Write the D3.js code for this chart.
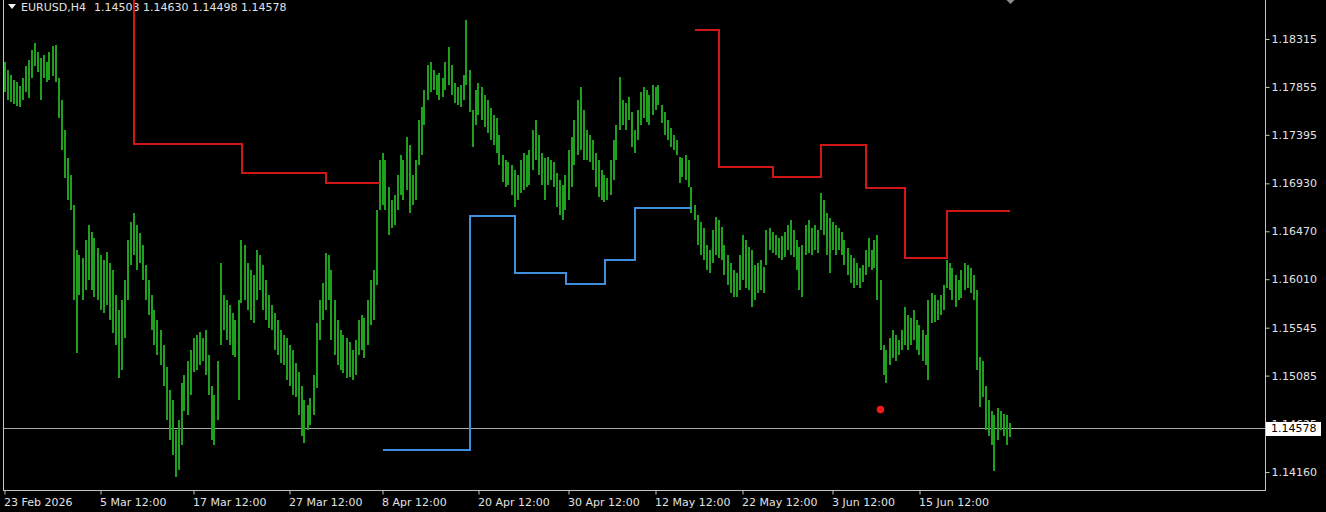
<!DOCTYPE html>
<html><head><meta charset="utf-8">
<script src="https://cdn.jsdelivr.net/npm/d3@7"></script>
<style>html,body{margin:0;padding:0;background:#000;overflow:hidden}svg{display:block}</style>
</head><body>
<svg id="c" width="1326" height="512"></svg>
<script>
// ---------- DATA ----------
const symbolTitle = "EURUSD,H4";
const lastOHLC = [1.14503, 1.14630, 1.14498, 1.14578];
const lastPrice = 1.14578;

const barHigh = [
1.1809,1.1802,1.1797,1.1792,1.1790,1.1786,1.1794,1.1806,1.1811,1.1821,
1.1828,1.1819,1.1813,1.1816,1.1809,1.1819,1.1825,1.1826,1.1794,1.1773,
1.1744,1.1717,1.1701,1.1672,1.1629,1.1624,1.1621,1.1639,1.1653,1.1646,
1.1641,1.1631,1.1624,1.1619,1.1627,1.1617,1.1610,1.1586,1.1571,1.1581,
1.1600,1.1639,1.1656,1.1665,1.1653,1.1645,1.1634,1.1615,1.1600,1.1586,
1.1571,1.1562,1.1552,1.1538,1.1517,1.1495,1.1485,1.1456,1.1466,1.1501,
1.1509,1.1523,1.1533,1.1545,1.1547,1.1550,1.1545,1.1552,1.1528,1.1499,
1.1490,1.1523,1.1617,1.1586,1.1581,1.1576,1.1569,1.1562,1.1581,1.1639,
1.1634,1.1617,1.1610,1.1605,1.1629,1.1624,1.1615,1.1600,1.1586,1.1576,
1.1569,1.1562,1.1552,1.1547,1.1545,1.1538,1.1533,1.1521,1.1512,1.1499,
1.1485,1.1480,1.1487,1.1509,1.1559,1.1581,1.1597,1.1626,1.1624,1.1610,
1.1581,1.1562,1.1552,1.1547,1.1545,1.1541,1.1533,1.1543,1.1562,1.1567,
1.1564,1.1581,1.1600,1.1610,1.1667,1.1715,1.1722,1.1715,1.1689,1.1677,
1.1682,1.1701,1.1720,1.1715,1.1737,1.1730,1.1701,1.1715,1.1754,1.1766,
1.1783,1.1807,1.1809,1.1802,1.1797,1.1799,1.1794,1.1809,1.1824,1.1807,
1.1789,1.1785,1.1787,1.1797,1.1850,1.1802,1.1763,1.1783,1.1789,1.1785,
1.1778,1.1773,1.1765,1.1759,1.1756,1.1739,1.1720,1.1715,1.1713,1.1711,
1.1706,1.1701,1.1715,1.1722,1.1720,1.1725,1.1744,1.1754,1.1739,1.1722,
1.1717,1.1718,1.1715,1.1713,1.1703,1.1696,1.1691,1.1701,1.1725,1.1737,
1.1754,1.1773,1.1785,1.1763,1.1744,1.1739,1.1735,1.1722,1.1715,1.1706,
1.1701,1.1698,1.1715,1.1735,1.1749,1.1795,1.1773,1.1770,1.1776,1.1761,
1.1744,1.1763,1.1781,1.1785,1.1783,1.1778,1.1787,1.1785,1.1787,1.1768,
1.1761,1.1754,1.1746,1.1739,1.1735,1.1718,1.1717,1.1720,1.1715,1.1689,
1.1672,1.1663,1.1656,1.1650,1.1634,1.1629,1.1648,1.1661,1.1658,1.1651,
1.1634,1.1624,1.1617,1.1610,1.1607,1.1624,1.1643,1.1639,1.1632,1.1629,
1.1615,1.1617,1.1619,1.1613,1.1648,1.1650,1.1646,1.1643,1.1641,1.1642,
1.1646,1.1653,1.1658,1.1648,1.1639,1.1632,1.1634,1.1653,1.1658,1.1650,
1.1653,1.1648,1.1684,1.1677,1.1665,1.1660,1.1656,1.1653,1.1650,1.1646,
1.1639,1.1631,1.1624,1.1621,1.1617,1.1612,1.1615,1.1629,1.1641,1.1629,
1.1639,1.1643,1.1600,1.1538,1.1533,1.1545,1.1552,1.1547,1.1543,1.1552,
1.1574,1.1567,1.1564,1.1571,1.1562,1.1557,1.1552,1.1547,1.1581,1.1588,
1.1586,1.1581,1.1586,1.1595,1.1619,1.1617,1.1612,1.1605,1.1600,1.1610,
1.1617,1.1615,1.1612,1.1605,1.1591,1.1526,1.1523,1.1499,1.1485,1.1475,
1.1471,1.1477,1.1475,1.1472,1.1471,1.1463
];
const barLow = [
1.1781,1.1773,1.1771,1.1769,1.1767,1.1766,1.1773,1.1781,1.1775,1.1794,
1.1806,1.1800,1.1773,1.1794,1.1790,1.1792,1.1796,1.1790,1.1756,1.1725,
1.1698,1.1677,1.1667,1.1581,1.1530,1.1586,1.1581,1.1591,1.1600,1.1591,
1.1584,1.1581,1.1571,1.1569,1.1576,1.1562,1.1549,1.1538,1.1506,1.1514,
1.1545,1.1581,1.1615,1.1624,1.1610,1.1617,1.1600,1.1581,1.1567,1.1552,
1.1538,1.1528,1.1519,1.1499,1.1466,1.1447,1.1432,1.1411,1.1418,1.1442,
1.1475,1.1471,1.1490,1.1512,1.1514,1.1519,1.1523,1.1509,1.1490,1.1447,
1.1442,1.1466,1.1538,1.1552,1.1543,1.1538,1.1528,1.1526,1.1485,1.1578,
1.1581,1.1571,1.1562,1.1559,1.1581,1.1591,1.1571,1.1562,1.1554,1.1552,
1.1533,1.1528,1.1521,1.1519,1.1504,1.1499,1.1490,1.1488,1.1471,1.1451,
1.1444,1.1456,1.1461,1.1471,1.1497,1.1543,1.1562,1.1571,1.1581,1.1543,
1.1528,1.1519,1.1514,1.1511,1.1506,1.1507,1.1504,1.1509,1.1528,1.1533,
1.1525,1.1538,1.1557,1.1562,1.1595,1.1667,1.1672,1.1667,1.1643,1.1650,
1.1653,1.1667,1.1682,1.1677,1.1687,1.1665,1.1672,1.1677,1.1711,1.1720,
1.1749,1.1773,1.1781,1.1783,1.1778,1.1773,1.1776,1.1783,1.1787,1.1778,
1.1770,1.1768,1.1766,1.1773,1.1787,1.1761,1.1728,1.1749,1.1759,1.1754,
1.1747,1.1741,1.1735,1.1730,1.1722,1.1711,1.1694,1.1689,1.1691,1.1682,
1.1670,1.1677,1.1684,1.1687,1.1689,1.1691,1.1706,1.1715,1.1701,1.1691,
1.1677,1.1691,1.1696,1.1689,1.1670,1.1663,1.1658,1.1667,1.1677,1.1689,
1.1711,1.1720,1.1725,1.1715,1.1715,1.1713,1.1706,1.1689,1.1680,1.1677,
1.1675,1.1677,1.1682,1.1696,1.1715,1.1744,1.1749,1.1744,1.1754,1.1728,
1.1722,1.1735,1.1749,1.1756,1.1752,1.1749,1.1759,1.1763,1.1768,1.1751,
1.1739,1.1735,1.1728,1.1725,1.1720,1.1693,1.1699,1.1696,1.1689,1.1665,
1.1658,1.1634,1.1624,1.1619,1.1610,1.1607,1.1617,1.1624,1.1621,1.1619,
1.1605,1.1595,1.1588,1.1584,1.1584,1.1591,1.1600,1.1593,1.1591,1.1574,
1.1581,1.1588,1.1591,1.1588,1.1615,1.1629,1.1626,1.1624,1.1621,1.1619,
1.1622,1.1629,1.1624,1.1622,1.1610,1.1591,1.1584,1.1624,1.1626,1.1624,
1.1629,1.1626,1.1648,1.1643,1.1624,1.1607,1.1629,1.1624,1.1629,1.1624,
1.1615,1.1605,1.1597,1.1593,1.1595,1.1593,1.1598,1.1605,1.1613,1.1610,
1.1612,1.1581,1.1533,1.1509,1.1501,1.1519,1.1525,1.1523,1.1528,1.1533,
1.1538,1.1533,1.1538,1.1543,1.1533,1.1528,1.1523,1.1519,1.1504,1.1559,
1.1560,1.1562,1.1567,1.1571,1.1593,1.1591,1.1581,1.1574,1.1581,1.1583,
1.1591,1.1593,1.1588,1.1581,1.1514,1.1478,1.1488,1.1456,1.1451,1.1442,
1.1417,1.1447,1.1456,1.1451,1.1442,1.1450
];

// right price scale tick labels
const priceTicks = [1.18315, 1.17855, 1.17395, 1.16930, 1.16470, 1.16010, 1.15545, 1.15085, 1.14625, 1.14160];
// time scale tick labels (bar index where each label sits)
const timeTickBars = [0, 32, 63, 95, 126, 158, 188, 217, 246, 276, 305];
const timeTickLabels = ["23 Feb 2026", "5 Mar 12:00", "17 Mar 12:00", "27 Mar 12:00", "8 Apr 12:00", "20 Apr 12:00",
                        "30 Apr 12:00", "12 May 12:00", "22 May 12:00", "3 Jun 12:00", "15 Jun 12:00"];

// red resistance step line (two runs): bar where each level starts, and the level
const redBarsA = [40, 43, 79, 107, 125];
const redLevelsA = [1.19000, 1.17304, 1.17029, 1.16930, 1.16930];
const redBarsB = [230, 238, 256, 272, 287, 300, 314, 335];
const redLevelsB = [1.18401, 1.17091, 1.16988, 1.17293, 1.16885, 1.16210, 1.16664, 1.16664];
// blue support step line
const blueBars = [126, 155, 170, 187, 200, 210, 229];
const blueLevels = [1.14371, 1.16619, 1.16066, 1.15964, 1.16194, 1.16696, 1.16696];
// red signal dot
const dotBars = [292];
const dotPrices = [1.14759];

// ---------- DRAW ----------
const plotLeft = 4, plotRight = 1265, plotBottom = 491;
const svg = d3.select("#c");
const FONT = "'DejaVu Sans', Verdana, sans-serif";
const TXT = "#e2e2e2";
const AXC = "#c4c4c4";

const x = d3.scaleLinear().domain([0, barHigh.length - 1]).range([4.5, 1009.5]);
const y = d3.scaleLinear().domain([1.13978, 1.18689]).range([plotBottom, 0]);

svg.append("defs").append("clipPath").attr("id", "plot")
  .append("rect").attr("x", plotLeft).attr("y", 0).attr("width", plotRight - plotLeft).attr("height", plotBottom);

// title
svg.append("path").attr("d", "M8,4 L16,4 L12,9 Z").attr("fill", "#f0f0f0");
svg.append("text").attr("x", 21).attr("y", 11).attr("fill", TXT)
  .style("font-family", FONT).style("font-size", "11px").text(symbolTitle);
svg.append("text").attr("x", 94).attr("y", 11).attr("fill", TXT)
  .style("font-family", FONT).style("font-size", "11px").text(lastOHLC.map(v => v.toFixed(5)).join(" "));

const plot = svg.append("g").attr("clip-path", "url(#plot)");

// price line
plot.append("line").attr("x1", plotLeft).attr("x2", plotRight)
  .attr("y1", Math.round(y(lastPrice)) + 0.5).attr("y2", Math.round(y(lastPrice)) + 0.5)
  .attr("stroke", "#a8a8a8").attr("stroke-width", 1);

// bars (high-low)
plot.append("g").selectAll("line").data(barHigh).join("line")
  .attr("x1", (d, i) => Math.round(x(i))).attr("x2", (d, i) => Math.round(x(i)))
  .attr("y1", d => y(d)).attr("y2", (d, i) => y(barLow[i]))
  .attr("stroke", "#1fa01f").attr("stroke-width", 2).attr("shape-rendering", "crispEdges");

// step lines
const step = d3.line().x(d => x(d[0])).y(d => y(d[1])).curve(d3.curveStepAfter);
function drawStep(bars, levels, color) {
  plot.append("path").datum(bars.map((b, i) => [b, levels[i]]))
    .attr("d", step).attr("fill", "none").attr("stroke", color).attr("stroke-width", 2)
    .attr("shape-rendering", "crispEdges");
}
drawStep(redBarsA, redLevelsA, "#d01616");
drawStep(redBarsB, redLevelsB, "#d01616");
drawStep(blueBars, blueLevels, "#3f8fdf");

// signal dot
plot.selectAll("circle.sig").data(dotBars).join("circle").attr("class", "sig")
  .attr("cx", d => x(d)).attr("cy", (d, i) => y(dotPrices[i])).attr("r", 3.8).attr("fill", "#f01818");

// frame
svg.append("line").attr("x1", 3.5).attr("x2", 3.5).attr("y1", 0).attr("y2", plotBottom).attr("stroke", AXC);
svg.append("line").attr("x1", 3.5).attr("x2", plotRight + 0.5).attr("y1", plotBottom - 0.5).attr("y2", plotBottom - 0.5).attr("stroke", AXC);
svg.append("line").attr("x1", plotRight + 0.5).attr("x2", plotRight + 0.5).attr("y1", 0).attr("y2", plotBottom).attr("stroke", AXC);

// y axis
const yAxis = svg.append("g").attr("transform", `translate(${plotRight + 0.5},0)`)
  .call(d3.axisRight(y).tickValues(priceTicks).tickFormat(d => d.toFixed(5)).tickSize(4).tickSizeOuter(0).tickPadding(2));
yAxis.select(".domain").remove();
yAxis.selectAll("line").attr("stroke", AXC);
yAxis.selectAll("text").attr("fill", TXT).attr("x", 6).style("font-family", FONT).style("font-size", "11px");

// x axis
const xAxis = svg.append("g").attr("transform", `translate(0,${plotBottom - 0.5})`)
  .call(d3.axisBottom(x).tickValues(timeTickBars).tickFormat((d, i) => timeTickLabels[i]).tickSize(4).tickSizeOuter(0));
xAxis.select(".domain").remove();
xAxis.selectAll("line").attr("stroke", AXC);
xAxis.selectAll("text").attr("fill", TXT).attr("text-anchor", "start").attr("x", -1).attr("y", 8).attr("dy", "0.71em")
  .style("font-family", FONT).style("font-size", "11px");

// current price label (covers the price-scale label underneath, as in the terminal)
const py = y(lastPrice);
svg.append("rect").attr("x", plotRight + 1).attr("y", py - 6.5).attr("width", 55).attr("height", 14).attr("fill", "#ffffff");
svg.append("text").attr("x", plotRight + 6).attr("y", py).attr("dy", "0.35em").attr("fill", "#000")
  .style("font-family", FONT).style("font-size", "11px").text(lastPrice.toFixed(5));

// chart shift marker
const sx = x(barHigh.length - 1) + 1;
svg.append("path").attr("d", `M${sx - 4},0 L${sx + 4},0 L${sx},4 Z`).attr("fill", "#8c8c8c");
</script>
</body></html>
